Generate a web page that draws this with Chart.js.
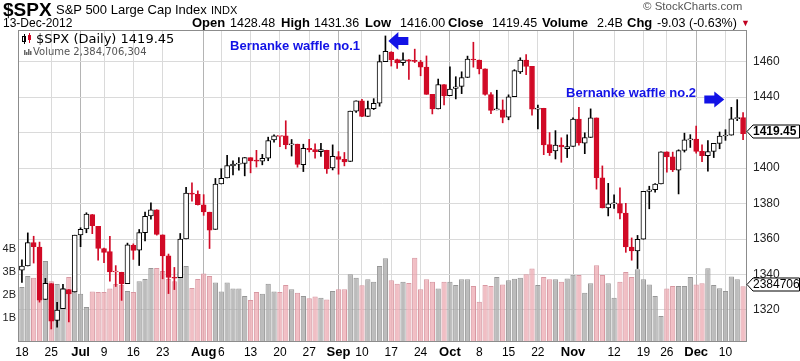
<!DOCTYPE html>
<html><head><meta charset="utf-8">
<script src="https://cdn.jsdelivr.net/npm/chart.js@4.4.0/dist/chart.umd.min.js"></script>
<style>
html,body{margin:0;padding:0;background:#fff;}
#wrap{position:relative;width:800px;height:361px;overflow:hidden;font-family:"Liberation Sans",Arial,sans-serif;}
#c{position:absolute;left:0;top:0;}
.h{position:absolute;white-space:nowrap;color:#000;line-height:1;}
.b{font-weight:bold;font-size:13px;}
.v{font-size:12.5px;}
</style></head><body>
<div id="wrap">
<canvas id="c" width="800" height="361"></canvas>
<div class="h" style="left:3px;top:0px;font-weight:bold;font-size:19px;">$SPX</div>
<div class="h" style="left:56px;top:3px;font-size:13px;">S&amp;P 500 Large Cap Index</div>
<div class="h" style="left:211px;top:5px;font-size:11px;">INDX</div>
<div class="h" style="left:3px;top:17px;font-size:12px;">13-Dec-2012</div>
<div class="h b" style="left:192px;top:16px;">Open</div>
<div class="h v" style="left:230px;top:17px;">1428.48</div>
<div class="h b" style="left:281px;top:16px;">High</div>
<div class="h v" style="left:314px;top:17px;">1431.36</div>
<div class="h b" style="left:365px;top:16px;">Low</div>
<div class="h v" style="left:400px;top:17px;">1416.00</div>
<div class="h b" style="left:448px;top:16px;">Close</div>
<div class="h v" style="left:492px;top:17px;">1419.45</div>
<div class="h b" style="left:542px;top:16px;">Volume</div>
<div class="h v" style="left:597px;top:17px;">2.4B</div>
<div class="h b" style="left:627px;top:16px;">Chg</div>
<div class="h v" style="left:657px;top:17px;">-9.03 (-0.63%)</div>
<div class="h" style="left:741px;top:19px;font-size:9px;color:#c00020;">&#9660;</div>
<div class="h" style="left:643px;top:1px;font-size:11.5px;color:#555;">&#169; StockCharts.com</div>
</div>
<script>
// ---- data ----
const dates = ['Jun 18','Jun 19','Jun 20','Jun 21','Jun 22','Jun 25','Jun 26','Jun 27','Jun 28','Jun 29',
'Jul 2','Jul 3','Jul 5','Jul 6','Jul 9','Jul 10','Jul 11','Jul 12','Jul 13','Jul 16','Jul 17','Jul 18','Jul 19','Jul 20','Jul 23','Jul 24','Jul 25','Jul 26','Jul 27','Jul 30','Jul 31',
'Aug 1','Aug 2','Aug 3','Aug 6','Aug 7','Aug 8','Aug 9','Aug 10','Aug 13','Aug 14','Aug 15','Aug 16','Aug 17','Aug 20','Aug 21','Aug 22','Aug 23','Aug 24','Aug 27','Aug 28','Aug 29','Aug 30','Aug 31',
'Sep 4','Sep 5','Sep 6','Sep 7','Sep 10','Sep 11','Sep 12','Sep 13','Sep 14','Sep 17','Sep 18','Sep 19','Sep 20','Sep 21','Sep 24','Sep 25','Sep 26','Sep 27','Sep 28',
'Oct 1','Oct 2','Oct 3','Oct 4','Oct 5','Oct 8','Oct 9','Oct 10','Oct 11','Oct 12','Oct 15','Oct 16','Oct 17','Oct 18','Oct 19','Oct 22','Oct 23','Oct 24','Oct 25','Oct 26','Oct 31',
'Nov 1','Nov 2','Nov 5','Nov 6','Nov 7','Nov 8','Nov 9','Nov 12','Nov 13','Nov 14','Nov 15','Nov 16','Nov 19','Nov 20','Nov 21','Nov 23','Nov 26','Nov 27','Nov 28','Nov 29','Nov 30',
'Dec 3','Dec 4','Dec 5','Dec 6','Dec 7','Dec 10','Dec 11','Dec 12','Dec 13'];

const openP = [1342.42,1344.83,1358.04,1355.43,1325.92,1334.90,1314.09,1320.71,1331.52,1330.12,
1362.33,1365.75,1373.72,1367.09,1354.66,1352.96,1341.40,1341.29,1334.81,1356.50,1353.68,1363.58,1373.01,1376.51,1362.34,1350.52,1338.35,1338.17,1360.05,1385.94,1385.27,
1379.32,1375.13,1365.45,1391.04,1394.46,1401.23,1402.26,1402.58,1405.87,1404.36,1403.89,1405.57,1415.84,1417.85,1418.13,1413.09,1413.49,1401.99,1411.13,1410.44,1409.32,1410.08,1400.07,
1406.54,1404.94,1403.74,1432.12,1437.92,1429.13,1433.56,1436.56,1460.07,1465.42,1461.19,1459.50,1461.05,1460.34,1459.76,1456.94,1441.60,1433.36,1447.13,
1440.90,1444.99,1446.05,1451.08,1461.40,1460.93,1455.90,1441.48,1432.82,1432.84,1428.75,1440.31,1454.22,1460.94,1457.34,1433.21,1433.74,1413.20,1409.74,1412.97,1410.99,
1412.20,1427.59,1414.02,1417.26,1428.27,1394.53,1377.55,1379.86,1380.03,1374.64,1355.41,1353.36,1359.88,1386.82,1387.79,1391.03,1409.15,1406.29,1398.77,1409.96,1415.95,
1416.34,1409.46,1407.05,1409.43,1413.95,1418.07,1418.55,1427.84,1428.48];

const highP = [1348.22,1363.46,1361.57,1358.27,1337.82,1334.90,1324.24,1334.40,1331.52,1362.17,
1366.35,1374.81,1373.85,1367.09,1354.87,1361.54,1345.00,1341.29,1357.70,1357.26,1365.36,1375.26,1380.39,1376.51,1362.34,1351.53,1343.98,1363.13,1389.19,1391.74,1387.16,
1385.03,1375.13,1394.16,1399.63,1407.14,1404.14,1405.95,1405.98,1405.87,1410.03,1407.73,1417.44,1418.71,1418.13,1426.68,1416.12,1413.49,1413.46,1416.17,1413.63,1413.95,1410.08,1413.09,
1409.31,1408.81,1432.12,1437.92,1438.74,1437.76,1439.15,1463.76,1474.51,1465.63,1461.47,1465.05,1461.23,1467.07,1460.72,1463.24,1441.60,1450.20,1447.13,
1457.14,1451.52,1454.30,1463.14,1470.96,1460.93,1455.90,1442.52,1443.90,1438.43,1441.31,1455.51,1462.20,1464.02,1457.34,1435.46,1433.74,1420.04,1421.12,1417.09,1418.76,
1428.35,1434.27,1419.90,1433.38,1428.27,1401.23,1391.39,1384.87,1388.81,1380.13,1360.62,1362.03,1386.89,1389.77,1391.25,1409.16,1409.15,1409.01,1410.31,1419.70,1418.86,
1423.73,1413.14,1415.56,1413.95,1420.34,1421.64,1434.27,1438.59,1431.36];

const lowP = [1335.52,1344.83,1346.45,1324.41,1325.92,1309.27,1310.30,1320.71,1313.29,1330.12,
1355.70,1363.53,1363.02,1348.03,1346.65,1336.27,1333.25,1325.41,1334.81,1348.51,1345.07,1358.96,1371.21,1362.19,1337.56,1329.24,1331.50,1338.17,1360.05,1381.37,1379.17,
1373.35,1354.65,1365.45,1391.04,1394.46,1396.13,1398.80,1395.62,1397.32,1400.60,1401.83,1404.15,1414.67,1412.12,1410.86,1406.78,1400.50,1398.04,1409.11,1405.59,1406.57,1397.01,1398.96,
1396.56,1401.25,1403.74,1431.45,1428.98,1429.13,1432.99,1434.87,1460.07,1457.55,1456.13,1457.88,1449.98,1459.51,1452.06,1441.59,1430.53,1433.36,1435.60,
1440.90,1439.01,1441.99,1451.08,1456.89,1453.10,1441.18,1430.64,1432.82,1425.53,1427.24,1440.31,1453.35,1452.63,1429.85,1422.06,1407.56,1407.10,1405.14,1403.28,1405.95,
1412.20,1412.91,1408.13,1417.26,1388.14,1377.51,1373.03,1377.19,1371.39,1352.50,1348.05,1343.35,1359.88,1377.04,1386.39,1391.03,1397.68,1398.03,1385.43,1409.04,1411.63,
1408.46,1403.65,1398.23,1405.93,1410.90,1415.64,1418.55,1426.76,1416.00];

const closeP = [1344.78,1357.98,1355.69,1325.51,1335.02,1313.72,1319.99,1331.85,1329.04,1362.16,
1365.51,1374.02,1367.58,1354.68,1352.46,1341.47,1341.45,1334.76,1356.78,1353.64,1363.67,1372.78,1376.51,1362.66,1350.52,1338.31,1337.89,1360.02,1385.97,1385.30,1379.32,
1375.32,1365.00,1390.99,1394.23,1401.35,1402.22,1402.80,1405.87,1404.11,1403.93,1405.53,1415.51,1418.16,1418.13,1413.17,1413.49,1402.08,1411.13,1410.44,1409.30,1410.49,1399.48,1406.58,
1404.94,1403.44,1432.12,1437.92,1429.08,1433.56,1436.56,1459.99,1465.77,1461.19,1459.32,1461.05,1460.26,1460.15,1456.89,1441.59,1433.32,1447.15,1440.67,
1444.49,1445.75,1450.99,1461.40,1460.93,1455.88,1441.48,1432.56,1432.84,1428.59,1440.13,1454.92,1460.91,1457.34,1433.19,1433.82,1413.11,1408.75,1412.97,1411.94,1412.16,
1427.59,1414.20,1417.26,1428.39,1394.53,1377.51,1379.85,1380.03,1374.53,1355.49,1353.33,1359.88,1386.89,1387.81,1391.03,1409.15,1406.29,1398.94,1409.93,1415.95,1416.18,
1409.46,1407.05,1409.28,1413.94,1418.07,1418.55,1427.84,1428.48,1419.45];

const prevClose0 = 1342.84;

// volume in billions of shares
const volumeB = [2.35,2.83,2.75,2.7,3.48,2.6,2.48,2.3,2.78,2.3,
2.06,1.48,2.15,2.13,2.13,2.28,2.48,2.45,2.17,2.13,2.6,2.7,3.17,3.17,3.04,2.7,2.6,3.0,3.26,2.3,2.7,
2.93,2.83,2.54,2.15,2.54,2.28,2.28,1.96,1.78,2.13,2.06,2.49,2.15,2.13,2.43,2.25,2.1,1.96,1.86,1.93,1.88,1.8,2.17,
2.25,2.25,2.9,2.75,2.42,2.68,2.58,3.26,3.6,2.64,2.49,2.58,2.52,3.62,2.25,2.68,2.58,2.28,2.58,
2.58,2.43,2.68,2.68,2.39,1.71,2.43,2.39,2.78,2.46,2.64,2.71,2.75,2.9,3.15,2.43,2.78,2.68,2.68,2.58,2.72,
2.88,2.87,2.1,2.51,3.29,2.87,2.51,1.88,2.58,3.0,2.78,3.12,2.68,2.46,1.96,1.09,2.28,2.39,2.39,2.39,2.78,
2.46,2.51,3.16,2.43,2.29,2.17,2.8,2.68,2.385];

// axis tick labels
const xTickIndex = [0,5,10,14,19,24,31,34,39,44,49,54,58,63,68,73,78,83,88,94,101,106,110,115,120];
const xTickText  = ['18','25','Jul','9','16','23','Aug','6','13','20','27','Sep','10','17','24','Oct','8','15','22','Nov','12','19','26','Dec','10'];
const monthNames = ['Jul','Aug','Sep','Oct','Nov','Dec'];
const priceTicks = [1320,1340,1360,1380,1400,1420,1440,1460];
const volTicks = [1,2,3,4];

const lastClose = 1419.45;
const lastVolume = 2384706304;

// ---- derived styling ----
const RED = '#d10a26', BLACK = '#000000';
const n = dates.length;
const candleColor = [], bodyFill = [], volFill = [], volBorder = [];
for (let i = 0; i < n; i++) {
  const pc = i === 0 ? prevClose0 : closeP[i-1];
  const up = closeP[i] >= pc;
  const col = up ? BLACK : RED;
  candleColor.push(col);
  bodyFill.push(closeP[i] > openP[i] ? '#ffffff' : col);
  volFill.push(up ? 'rgba(176,176,176,0.85)' : 'rgba(236,168,176,0.75)');
  volBorder.push(up ? '#979797' : '#d898a2');
}
const bodies = dates.map((d,i) => [openP[i], closeP[i]]);
const wicks = dates.map((d,i) => [lowP[i], highP[i]]);

const tickLabelAt = {};
xTickIndex.forEach((k,j) => tickLabelAt[k] = xTickText[j]);

const FONT = '"Liberation Sans", Arial, sans-serif';

const overlay = {
  id: 'overlay',
  afterDraw(chart) {
    const {ctx, chartArea: a, scales} = chart;
    const xs = scales.x, ps = scales.price, vs = scales.vol;
    ctx.save();
    // frame
    ctx.strokeStyle = '#8c8c8c'; ctx.lineWidth = 1;
    ctx.strokeRect(a.left - 0.5, a.top - 0.5, a.right - a.left + 1, a.bottom - a.top + 1);

    // legend (top-left inside plot)
    const lx = a.left + 4;
    ctx.fillStyle = '#000';
    ctx.fillRect(lx + 1, 34, 1, 10); ctx.strokeStyle = '#000';
    ctx.strokeRect(lx - 0.5, 36.5, 3, 5);
    ctx.fillStyle = RED; ctx.fillRect(lx + 6, 33, 1, 10); ctx.fillRect(lx + 5, 35, 3, 5);
    ctx.fillStyle = '#000';
    ctx.font = '13px "DejaVu Sans", sans-serif';
    ctx.textBaseline = 'alphabetic'; ctx.textAlign = 'left';
    ctx.fillText('$SPX (Daily) ' + lastClose.toFixed(2), lx + 13, 43);
    ctx.fillStyle = '#666';
    [[0,5],[2,3],[4,6],[6,4]].forEach(([dx,h]) => ctx.fillRect(lx + dx + 1, 55 - h, 1.5, h));
    ctx.fillStyle = '#555';
    ctx.font = '10px "DejaVu Sans", sans-serif';
    ctx.fillText('Volume ' + lastVolume.toLocaleString('en-US'), lx + 10, 55);

    // annotations
    ctx.fillStyle = '#1212e6';
    ctx.font = 'bold 13px ' + FONT;
    ctx.textBaseline = 'middle';
    ctx.fillText('Bernanke waffle no.1', xs.getPixelForValue(35.5), ps.getPixelForValue(1468.6));
    ctx.fillText('Bernanke waffle no.2', xs.getPixelForValue(92.8), ps.getPixelForValue(1442.3));
    let tx = xs.getPixelForValue(62.5), ty = ps.getPixelForValue(1471.7);
    ctx.beginPath();
    ctx.moveTo(tx, ty); ctx.lineTo(tx + 10, ty - 9); ctx.lineTo(tx + 10, ty - 4);
    ctx.lineTo(tx + 20, ty - 4); ctx.lineTo(tx + 20, ty + 4); ctx.lineTo(tx + 10, ty + 4);
    ctx.lineTo(tx + 10, ty + 9); ctx.closePath(); ctx.fill();
    tx = xs.getPixelForValue(119.8); ty = ps.getPixelForValue(1438.7);
    ctx.beginPath();
    ctx.moveTo(tx, ty); ctx.lineTo(tx - 10, ty - 8); ctx.lineTo(tx - 10, ty - 4);
    ctx.lineTo(tx - 20, ty - 4); ctx.lineTo(tx - 20, ty + 4); ctx.lineTo(tx - 10, ty + 4);
    ctx.lineTo(tx - 10, ty + 8); ctx.closePath(); ctx.fill();

    // value tags on the right
    const tag = (yc, text, bold) => {
      const x0 = a.right + 1;
      ctx.beginPath();
      ctx.moveTo(x0, yc); ctx.lineTo(x0 + 6, yc - 6.5); ctx.lineTo(799.5, yc - 6.5);
      ctx.lineTo(799.5, yc + 6.5); ctx.lineTo(x0 + 6, yc + 6.5); ctx.closePath();
      ctx.fillStyle = '#fff'; ctx.fill();
      ctx.strokeStyle = '#000'; ctx.lineWidth = 1; ctx.stroke();
      ctx.fillStyle = '#000';
      ctx.font = (bold ? 'bold ' : '') + '12px ' + FONT;
      ctx.textBaseline = 'middle'; ctx.textAlign = 'left';
      ctx.fillText(text, x0 + 6, yc + 0.5);
    };
    tag(Math.round(vs.getPixelForValue(lastVolume / 1e9)) - 1.5, String(lastVolume), false);
    tag(Math.round(ps.getPixelForValue(lastClose)) - 2.5, lastClose.toFixed(2), true);
    ctx.restore();
  }
};

new Chart(document.getElementById('c'), {
  type: 'bar',
  data: {
    labels: dates,
    datasets: [
      { label: 'body', data: bodies, yAxisID: 'price', grouped: false, barThickness: 5,
        backgroundColor: bodyFill, borderColor: candleColor, borderWidth: 1, borderSkipped: false,
        minBarLength: 1, order: 1 },
      { label: 'wick', data: wicks, yAxisID: 'price', grouped: false, barThickness: 1,
        backgroundColor: candleColor, borderWidth: 0, order: 2 },
      { label: 'volume', data: volumeB, yAxisID: 'vol', grouped: false, barPercentage: 0.9,
        categoryPercentage: 1, backgroundColor: volFill, borderColor: volBorder, borderWidth: 1,
        borderSkipped: 'bottom', order: 3 }
    ]
  },
  options: {
    responsive: false, animation: false, devicePixelRatio: 1,
    layout: { padding: { top: 31, left: 0, right: 0, bottom: 0 } },
    plugins: { legend: { display: false }, tooltip: { enabled: false } },
    scales: {
      x: {
        type: 'category', offset: true,
        grid: { offset: false, drawTicks: false,
          color: c => {
            const lbl = tickLabelAt[c.index];
            if (lbl === undefined || c.index === 0) return 'rgba(0,0,0,0)';
            return monthNames.includes(lbl) ? '#b4b4b4' : '#dadada';
          } },
        border: { display: false },
        ticks: { autoSkip: false, maxRotation: 0, minRotation: 0, padding: 4, color: '#000',
          callback: (v, i) => tickLabelAt[i] !== undefined ? tickLabelAt[i] : '',
          font: c => {
            const lbl = c.tick ? c.tick.label : '';
            return monthNames.includes(lbl) ? { family: FONT, size: 13, weight: 'bold' } : { family: FONT, size: 12 };
          } },
        afterFit: s => { s.height = 20; }
      },
      price: {
        type: 'linear', position: 'right', min: 1302.5, max: 1477.3,
        afterBuildTicks: s => { s.ticks = priceTicks.map(v => ({ value: v })); },
        grid: { color: '#dadada', drawTicks: false },
        border: { display: false },
        ticks: { padding: 7, color: '#222', font: { family: FONT, size: 12 }, callback: v => String(v) },
        afterFit: s => { s.width = 54; }
      },
      vol: {
        type: 'linear', position: 'left', min: 0, max: 13.48,
        afterBuildTicks: s => { s.ticks = volTicks.map(v => ({ value: v })); },
        grid: { drawOnChartArea: false, drawTicks: false },
        border: { display: false },
        ticks: { padding: 3, color: '#222', font: { family: FONT, size: 11 }, callback: v => v + 'B' },
        afterFit: s => { s.width = 19; }
      }
    }
  },
  plugins: [overlay]
});
</script>
</body></html>
